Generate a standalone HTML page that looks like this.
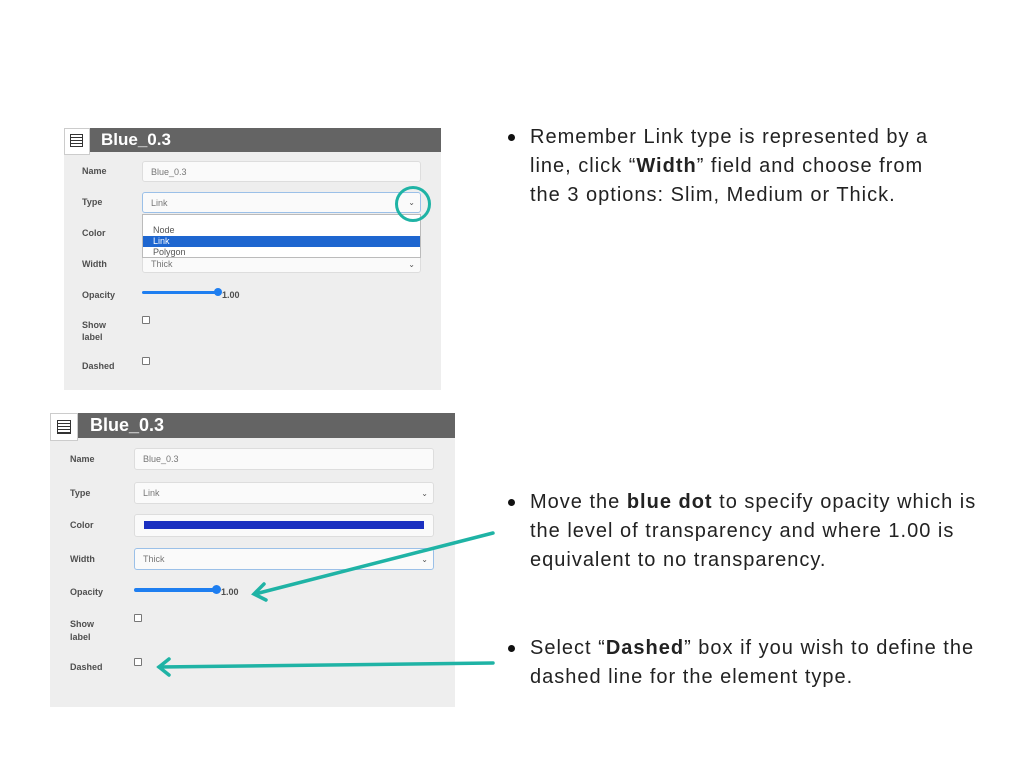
<!DOCTYPE html>
<html><head><meta charset="utf-8"><style>
*{margin:0;padding:0;box-sizing:border-box}
body{width:1024px;height:768px;background:#fff;position:relative;overflow:hidden;font-family:"Liberation Sans",Arial,sans-serif}
.a{position:absolute}
.lbl{position:absolute;font-size:9px;color:#333;font-weight:bold;opacity:.85}
.inp{position:absolute;background:#fafafa;border:1px solid #ddd;border-radius:3px;font-size:9px;color:#777;padding-left:8px;display:flex;align-items:center}
.chk{position:absolute;width:8px;height:8px;border:1px solid #777;border-radius:1px;background:#fff}
.chev{position:absolute;right:5px;font-size:8px;color:#555}
.txt{position:absolute;font-size:20px;color:#222;line-height:29px;white-space:nowrap;letter-spacing:1px}
.dot{position:absolute;width:7px;height:7px;border-radius:50%;background:#111}
.ic{position:absolute;border:1.5px solid #333;background:repeating-linear-gradient(#fff 0 2px,#333 2px 3px)}
</style></head><body>

<!-- Panel 1 -->
<div class="a" style="left:64px;top:128px;width:377px;height:262px;background:#eeeeee"></div>
<div class="a" style="left:64px;top:128px;width:377px;height:24px;background:#646464"></div>
<div class="a" style="left:64px;top:128px;width:26px;height:27px;background:#fff;border:1px solid #ccc"></div>
<div class="ic" style="left:70px;top:134px;width:13px;height:13px"></div>
<div class="a" style="left:101px;top:130px;font-size:17px;font-weight:bold;color:#fff">Blue_0.3</div>
<div class="lbl" style="left:82px;top:166px">Name</div>
<div class="inp" style="left:142px;top:161px;width:279px;height:21px">Blue_0.3</div>
<div class="lbl" style="left:82px;top:197px">Type</div>
<div class="inp" style="left:142px;top:192px;width:279px;height:21px;border-color:#9bc0e8">Link<span class="chev">⌄</span></div>
<div class="lbl" style="left:82px;top:228px">Color</div>
<div class="lbl" style="left:82px;top:259px">Width</div>
<div class="inp" style="left:142px;top:255px;width:279px;height:18px">Thick<span class="chev">⌄</span></div>
<div class="a" style="left:142px;top:214px;width:279px;height:44px;background:#fff;border:1px solid #bbb;font-size:9px;color:#555">
 <div style="position:absolute;left:10px;top:10px">Node</div>
 <div style="position:absolute;left:0;top:21px;width:277px;height:11px;background:#1e66d0;color:#fff;padding-left:10px">Link</div>
 <div style="position:absolute;left:10px;top:32px">Polygon</div>
</div>
<div class="lbl" style="left:82px;top:290px">Opacity</div>
<div class="a" style="left:142px;top:291px;width:76px;height:3px;background:#1e7ef0;border-radius:2px"></div>
<div class="a" style="left:214px;top:288px;width:8px;height:8px;background:#1e7ef0;border-radius:50%"></div>
<div class="lbl" style="left:222px;top:290px">1.00</div>
<div class="lbl" style="left:82px;top:319px;line-height:12px">Show<br>label</div>
<div class="chk" style="left:142px;top:316px"></div>
<div class="lbl" style="left:82px;top:361px">Dashed</div>
<div class="chk" style="left:142px;top:357px"></div>
<div class="a" style="left:395px;top:186px;width:36px;height:36px;border:3px solid #1fb3a5;border-radius:50%"></div>

<!-- Panel 2 -->
<div class="a" style="left:50px;top:413px;width:405px;height:294px;background:#eeeeee"></div>
<div class="a" style="left:50px;top:413px;width:405px;height:25px;background:#646464"></div>
<div class="a" style="left:50px;top:413px;width:28px;height:28px;background:#fff;border:1px solid #ccc"></div>
<div class="ic" style="left:57px;top:420px;width:14px;height:14px"></div>
<div class="a" style="left:90px;top:415px;font-size:18px;font-weight:bold;color:#fff">Blue_0.3</div>
<div class="lbl" style="left:70px;top:454px">Name</div>
<div class="inp" style="left:134px;top:448px;width:300px;height:22px">Blue_0.3</div>
<div class="lbl" style="left:70px;top:488px">Type</div>
<div class="inp" style="left:134px;top:482px;width:300px;height:22px">Link<span class="chev">⌄</span></div>
<div class="lbl" style="left:70px;top:520px">Color</div>
<div class="inp" style="left:134px;top:514px;width:300px;height:23px"></div>
<div class="a" style="left:144px;top:521px;width:280px;height:8px;background:#1a2fc0"></div>
<div class="lbl" style="left:70px;top:554px">Width</div>
<div class="inp" style="left:134px;top:548px;width:300px;height:22px;border-color:#9bc0e8">Thick<span class="chev">⌄</span></div>
<div class="lbl" style="left:70px;top:587px">Opacity</div>
<div class="a" style="left:134px;top:588px;width:82px;height:4px;background:#1e7ef0;border-radius:2px"></div>
<div class="a" style="left:212px;top:585px;width:9px;height:9px;background:#1e7ef0;border-radius:50%"></div>
<div class="lbl" style="left:221px;top:587px">1.00</div>
<div class="lbl" style="left:70px;top:618px;line-height:13px">Show<br>label</div>
<div class="chk" style="left:134px;top:614px"></div>
<div class="lbl" style="left:70px;top:662px">Dashed</div>
<div class="chk" style="left:134px;top:658px"></div>

<svg class="a" style="left:0;top:0" width="1024" height="768">
 <g stroke="#1fb3a5" stroke-width="3.5" fill="none" stroke-linecap="round">
  <line x1="493" y1="533" x2="255" y2="594"/>
  <polyline points="264,584 254,594 266,600"/>
  <line x1="493" y1="663" x2="159" y2="667"/>
  <polyline points="169,659 159,667 169,675"/>
 </g>
</svg>

<!-- Text -->
<div class="dot" style="left:508px;top:134px"></div>
<div class="txt" style="left:530px;top:123px">Remember Link type is represented by a<br>line, click “<b>Width</b>” field and choose from<br>the 3 options: Slim, Medium or Thick.</div>
<div class="dot" style="left:508px;top:499px"></div>
<div class="txt" style="left:530px;top:488px">Move the <b>blue dot</b> to specify opacity which is<br>the level of transparency and where 1.00 is<br>equivalent to no transparency.</div>
<div class="dot" style="left:508px;top:645px"></div>
<div class="txt" style="left:530px;top:634px">Select “<b>Dashed</b>” box if you wish to define the<br>dashed line for the element type.</div>
</body></html>
